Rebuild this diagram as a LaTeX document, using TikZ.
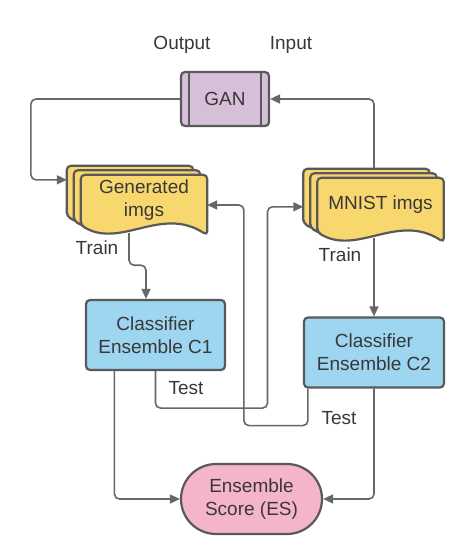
\documentclass[tikz,border=0pt]{standalone}
\usepackage{fontspec}
\setmainfont{Liberation Sans}
\usetikzlibrary{arrows.meta,backgrounds,shapes.misc}
\definecolor{ganfill}{HTML}{D6BFD8}
\definecolor{imgfill}{HTML}{F9D76F}
\definecolor{clsfill}{HTML}{9ED5F1}
\definecolor{esfill}{HTML}{F4B5C8}
\definecolor{edge}{HTML}{595959}
\definecolor{wire}{HTML}{676767}
\definecolor{ink}{HTML}{383838}
\begin{document}
\begin{tikzpicture}[x=1pt,y=-1pt,
  every node/.style={font=\fontsize{19}{23}\selectfont,text=ink},
  box/.style={draw=edge,line width=2.2pt,rounded corners=4pt,align=center,inner sep=0pt},
  imgs/.style={minimum width=126pt,align=center,inner sep=0pt},
  layer/.style={draw=edge,line width=2.2pt,fill=imgfill,rounded corners=4pt},
  link/.style={draw=wire,line width=1.6pt,rounded corners=5pt,-{Triangle[length=10pt,width=9pt]}}]
\useasboundingbox (0,0) rectangle (450,536);
\node (out) at (182,45) {Output};
\node (inp) at (291,45) {Input};
\node[box,fill=ganfill,minimum width=88pt,minimum height=54pt] (gan) at (225,99) {GAN};
\draw[draw=edge,line width=2.2pt] ([xshift=9pt]gan.north west) -- ([xshift=9pt]gan.south west);
\draw[draw=edge,line width=2.2pt] ([xshift=-9pt]gan.north east) -- ([xshift=-9pt]gan.south east);
\node[imgs,minimum height=50pt] (gen) at (144,200) {Generated\\imgs};
\node[imgs,minimum height=54pt] (mnist) at (380.5,205) {MNIST imgs};
\begin{scope}[on background layer]
\foreach \n in {gen,mnist}
  \foreach \k in {2,1,0}
    \draw[layer] ([shift={(-7*\k,-4.5*\k)}]\n.south west) -- ([shift={(-7*\k,-4.5*\k)}]\n.north west)
      -- ([shift={(-7*\k,-4.5*\k)}]\n.north east) -- ([shift={(-7*\k,10-4.5*\k)}]\n.south east)
      .. controls ([shift={(-46-7*\k,-20-4.5*\k)}]\n.south east) and ([shift={(40-7*\k,24-4.5*\k)}]\n.south west)
      .. ([shift={(-7*\k,-4.5*\k)}]\n.south west) -- cycle;
\end{scope}
\coordinate (genin) at ([shift={(-14,5)}]gen.north west);
\coordinate (mnin) at ([shift={(-14,29)}]mnist.north west);
\node[box,fill=clsfill,minimum width=139pt,minimum height=70pt] (c1) at (155.5,335) {Classifier\\Ensemble C1};
\node[box,fill=clsfill,minimum width=140pt,minimum height=70pt] (c2) at (374,352.5) {Classifier\\Ensemble C2};
\node[box,sharp corners,rounded rectangle,fill=esfill,minimum width=141pt,minimum height=70pt] (es) at (251.5,499) {Ensemble\\Score (ES)};
\node (train1) at (97,248) {Train};
\node (train2) at (340,255) {Train};
\node (test1) at (186,388) {Test};
\node (test2) at (339,418) {Test};
% GAN loop
\draw[link] (gan.west) -- ++(-149,0) |- (genin);
\draw[link] ([shift={(-6.5,-10)}]mnist.north) |- (gan.east);
% training
\draw[link] ([shift={(-15,8)}]gen.south) -- ++(0,32) -| ([xshift=-9.5pt]c1.north);
\draw[link] ([yshift=-6pt]c2.north |- mnist.south) -- (c2.north);
% testing
\draw[link] (c1.south) |- ++(112,37) |- (mnin);
\draw[link] ([xshift=5pt]c2.south west) |- ++(-64,37) |- ([yshift=-5pt]gen.east);
% score
\draw[link] ([xshift=29.5pt]c1.south west) |- (es.west);
\draw[link] (c2.south) |- (es.east);
\end{tikzpicture}
\end{document}
